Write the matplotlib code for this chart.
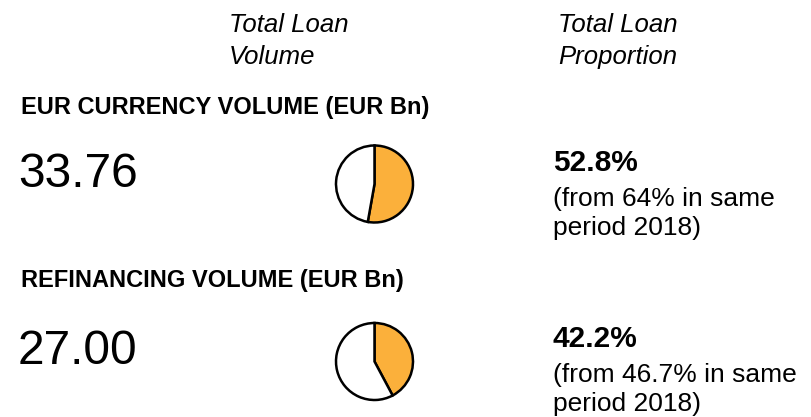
import matplotlib
matplotlib.use("Agg")
import matplotlib.pyplot as plt

plt.rcParams['font.family'] = ['Liberation Sans', 'DejaVu Sans']

col_titles = ["Total Loan\nVolume", "Total Loan\nProportion"]
headers = ["EUR CURRENCY VOLUME (EUR Bn)", "REFINANCING VOLUME (EUR Bn)"]
volumes = ["33.76", "27.00"]
shares = [52.8, 42.2]
prev_notes = ["(from 64% in same\nperiod 2018)", "(from 46.7% in same\nperiod 2018)"]

ORANGE = "#FBB03B"
W, H = 812, 417
fig = plt.figure(figsize=(W / 100, H / 100), dpi=100)
ax = fig.add_axes([0, 0, 1, 1])
ax.set_xlim(0, W)
ax.set_ylim(H, 0)
ax.axis('off')

# column titles
ax.text(229, 32, col_titles[0].split("\n")[0], fontsize=18.5, style='italic', va='baseline')
ax.text(229, 64, col_titles[0].split("\n")[1], fontsize=18.5, style='italic', va='baseline')
ax.text(558, 32, col_titles[1].split("\n")[0], fontsize=18.5, style='italic', va='baseline')
ax.text(558, 64, col_titles[1].split("\n")[1], fontsize=18.5, style='italic', va='baseline')

row_header_y = [114, 287]
row_num_y = [187, 364]
row_pct_y = [171, 347]
row_pie_cy = [184, 361.5]

for i in range(2):
    ax.text(21, row_header_y[i], headers[i], fontsize=17, fontweight='bold', va='baseline')
    ax.text(18, row_num_y[i], volumes[i], fontsize=34.5, va='baseline')
    ax.text(553, row_pct_y[i], f"{shares[i]:.1f}%", fontsize=21.5, fontweight='bold', va='baseline')
    lines = prev_notes[i].split("\n")
    ax.text(553, row_pct_y[i] + 35, lines[0], fontsize=19, va='baseline')
    ax.text(553, row_pct_y[i] + 64, lines[1], fontsize=19, va='baseline')

    cx, cy, r = 374.5, row_pie_cy[i], 38.5
    pad = 3
    pax = fig.add_axes([(cx - r - pad) / W, (H - cy - r - pad) / H,
                        2 * (r + pad) / W, 2 * (r + pad) / H])
    pax.pie([shares[i], 100 - shares[i]], colors=[ORANGE, 'white'], startangle=90,
            counterclock=False, radius=1.0,
            wedgeprops=dict(edgecolor='black', linewidth=1.8))
    lim = (r + pad) / r
    pax.set_xlim(-lim, lim)
    pax.set_ylim(-lim, lim)
    pax.set_aspect('equal')
    pax.axis('off')

fig.savefig("out.png", dpi=100)
